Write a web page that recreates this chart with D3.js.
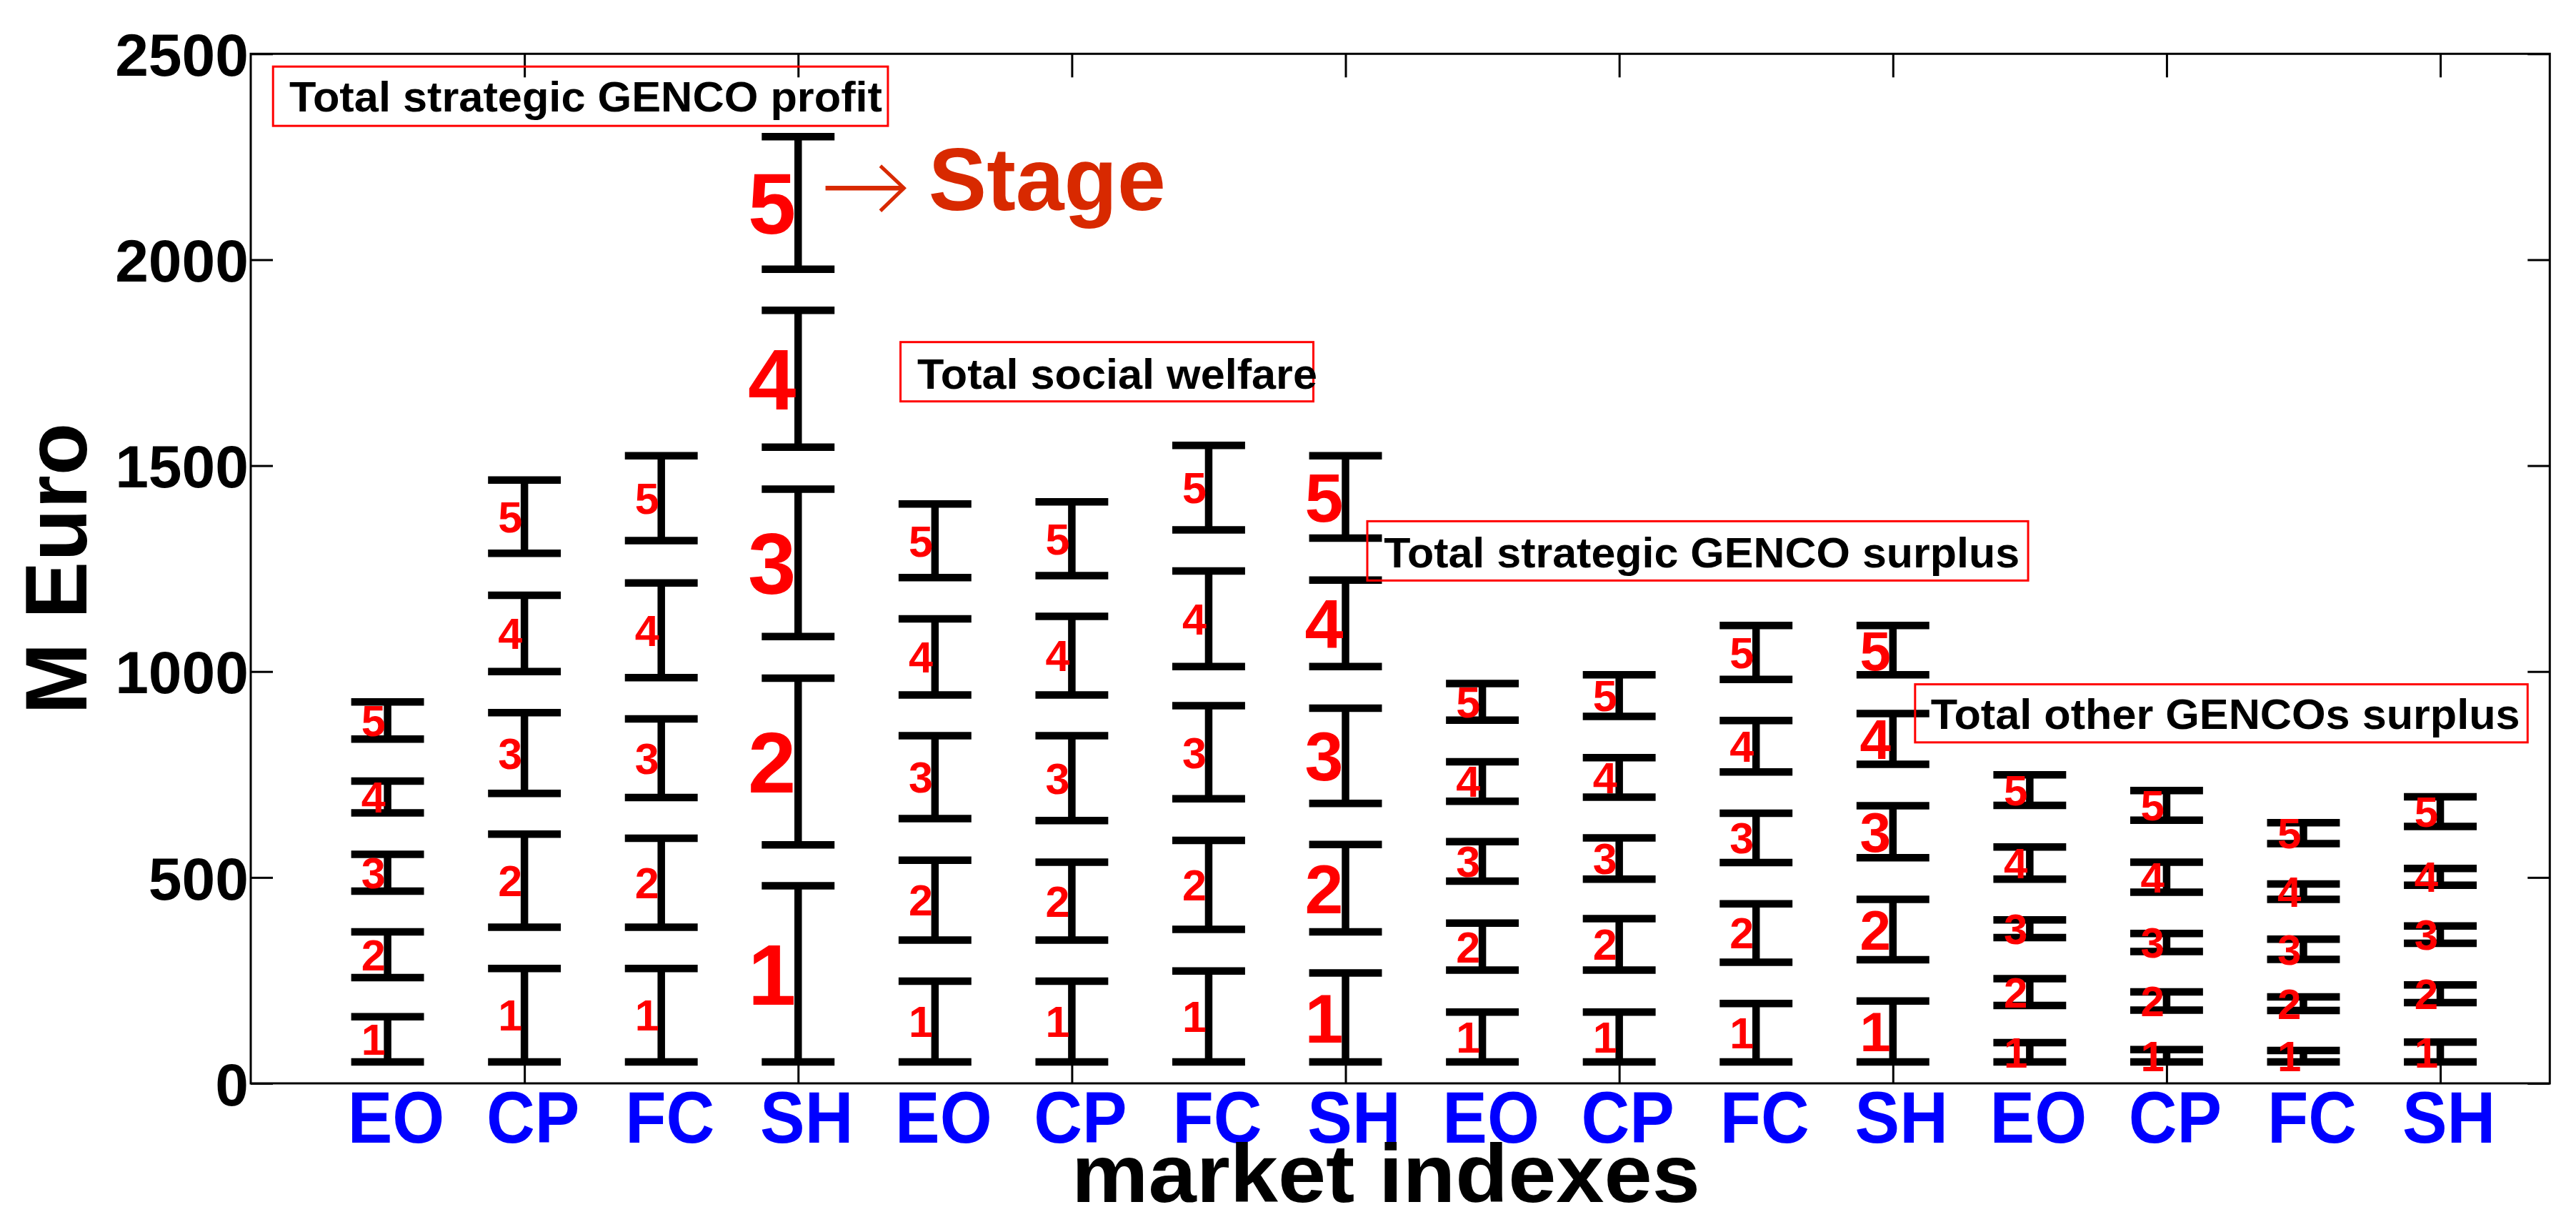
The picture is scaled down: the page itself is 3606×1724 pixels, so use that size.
<!DOCTYPE html>
<html lang="en">
<head>
  <meta charset="utf-8">
  <title>Market indexes by stage</title>
  <script src="https://d3js.org/d3.v7.min.js" charset="utf-8"></script>
  <style>
    body { margin: 0; background: white; }
    text { font-family: "Liberation Sans", Arial, sans-serif; font-weight: bold; }
  </style>
</head>

<body>
  <svg id="chart" width="3606" height="1724"></svg>
</body>

<script type="text/javascript">
  // market indexes, repeated once for every quantity
  var marketIndexes = ["EO", "CP", "FC", "SH"];
  var stages = [1, 2, 3, 4, 5];
  var quantities = ["Total strategic GENCO profit", "Total social welfare",
                    "Total strategic GENCO surplus", "Total other GENCOs surplus"];

  // [lower, upper] in M Euro for stages 1..5, rows EO, CP, FC, SH
  var strategicProfit = [
    [[52, 162], [257, 368], [467, 556], [657, 734], [836, 926]],
    [[52, 279], [379, 605], [704, 900], [1000, 1185], [1287, 1465]],
    [[52, 279], [379, 595], [694, 885], [985, 1215], [1318, 1524]],
    [[52, 480], [579, 984], [1085, 1443], [1545, 1877], [1977, 2299]]
  ];
  var socialWelfare = [
    [[52, 248], [348, 542], [643, 844], [943, 1128], [1228, 1407]],
    [[52, 248], [348, 537], [638, 844], [943, 1134], [1233, 1412]],
    [[52, 273], [374, 590], [691, 917], [1012, 1244], [1344, 1549]],
    [[52, 268], [368, 580], [680, 911], [1012, 1222], [1324, 1524]]
  ];
  var strategicSurplus = [
    [[52, 173], [275, 389], [491, 587], [685, 781], [882, 971]],
    [[52, 173], [275, 400], [496, 596], [695, 791], [891, 992]],
    [[52, 194], [294, 436], [536, 656], [756, 881], [981, 1112]],
    [[52, 200], [300, 447], [548, 674], [775, 898], [992, 1112]]
  ];
  var otherSurplus = [
    [[52, 99], [189, 254], [354, 397], [496, 574], [675, 749]],
    [[52, 82], [178, 222], [320, 364], [464, 537], [639, 711]],
    [[52, 80], [177, 210], [301, 350], [447, 484], [582, 633]],
    [[52, 100], [196, 239], [340, 382], [481, 522], [624, 696]]
  ];

  var yTicks = [0, 500, 1000, 1500, 2000, 2500];
  var xTicks = [2, 4, 6, 8, 10, 12, 14, 16];

  var groups = [strategicProfit, socialWelfare, strategicSurplus, otherSurplus];

  // layout only: stage label size (SH columns are drawn bigger), note boxes in data units
  var bigLabel = [121, 97, 78, 60];
  var notes = [
    { x0: 0.163, x1: 4.656, top: 2469, bottom: 2325, tx: 0.282, base: 2360, len: 830 },
    { x0: 4.748, x1: 7.765, top: 1800, bottom: 1656, tx: 4.870, base: 1687, len: 560 },
    { x0: 8.159, x1: 12.988, top: 1365, bottom: 1221, tx: 8.280, base: 1253, len: 890 },
    { x0: 12.162, x1: 16.638, top: 969, bottom: 828, tx: 12.276, base: 861, len: 825 }
  ];

  var svg = d3.select("#chart");

  var x = d3.scaleLinear().domain([0, 16.8]).range([351, 3569.3]),
      y = d3.scaleLinear().domain([0, 2500]).range([1516, 75.3]);

  // flat table of all error bars
  var bars = [];
  groups.forEach(function(group, g) {
    group.forEach(function(row, m) {
      row.forEach(function(v, s) {
        bars.push({ pos: g * 4 + m + 1, g: g, m: m, stage: stages[s], lo: v[0], hi: v[1] });
      });
    });
  });

  // axes, ticks pointing inwards on all four sides
  function styleAxis(sel) {
    sel.select(".domain").remove();
    sel.selectAll(".tick line").attr("stroke", "black").attr("stroke-width", 3);
  }

  svg.append("g")
    .attr("transform", "translate(0," + y(0) + ")")
    .call(d3.axisBottom(x).tickValues(xTicks).tickSize(-33).tickFormat(""))
    .call(styleAxis);

  svg.append("g")
    .attr("transform", "translate(0," + y(2500) + ")")
    .call(d3.axisTop(x).tickValues(xTicks).tickSize(-33).tickFormat(""))
    .call(styleAxis);

  svg.append("g")
    .attr("transform", "translate(" + x(16.8) + ",0)")
    .call(d3.axisRight(y).tickValues(yTicks).tickSize(-31).tickFormat(""))
    .call(styleAxis);

  var yAxis = svg.append("g")
    .attr("transform", "translate(" + x(0) + ",0)")
    .call(d3.axisLeft(y).tickValues(yTicks).tickSize(-31).tickPadding(3).tickFormat(d3.format("d")))
    .call(styleAxis);

  yAxis.selectAll(".tick text")
    .attr("font-family", "Liberation Sans, Arial, sans-serif")
    .attr("font-size", 84)
    .attr("fill", "black")
    .attr("dy", "0.36em");

  svg.append("rect")
    .attr("x", x(0))
    .attr("y", y(2500))
    .attr("width", x(16.8) - x(0))
    .attr("height", y(0) - y(2500))
    .attr("fill", "none")
    .attr("stroke", "black")
    .attr("stroke-width", 3);

  // error bars
  var capHalf = 0.266;
  var eb = svg.append("g").attr("stroke", "black").attr("stroke-width", 10.5);

  eb.selectAll(".stem")
    .data(bars)
    .enter().append("line")
    .attr("x1", function(d) { return x(d.pos); })
    .attr("x2", function(d) { return x(d.pos); })
    .attr("y1", function(d) { return y(d.lo); })
    .attr("y2", function(d) { return y(d.hi); });

  eb.selectAll(".capLo")
    .data(bars)
    .enter().append("line")
    .attr("x1", function(d) { return x(d.pos - capHalf); })
    .attr("x2", function(d) { return x(d.pos + capHalf); })
    .attr("y1", function(d) { return y(d.lo); })
    .attr("y2", function(d) { return y(d.lo); });

  eb.selectAll(".capHi")
    .data(bars)
    .enter().append("line")
    .attr("x1", function(d) { return x(d.pos - capHalf); })
    .attr("x2", function(d) { return x(d.pos + capHalf); })
    .attr("y1", function(d) { return y(d.hi); })
    .attr("y2", function(d) { return y(d.hi); });

  // red stage numbers, left of each bar
  function labelSize(d) {
    if (d.m === 3) return bigLabel[d.g];
    return d.g === 3 ? 60 : 61;
  }

  svg.selectAll(".stage")
    .data(bars)
    .enter().append("text")
    .attr("x", function(d) { return x(d.pos) - 3; })
    .attr("y", function(d) { return y((d.lo + d.hi) / 2) + 0.358 * labelSize(d); })
    .attr("text-anchor", "end")
    .attr("font-size", labelSize)
    .attr("fill", "#ff0000")
    .text(function(d) { return d.stage; });

  // blue market index names under the axis
  var cats = d3.range(16).map(function(i) { return { pos: i + 1, name: marketIndexes[i % 4] }; });

  svg.selectAll(".cat")
    .data(cats)
    .enter().append("text")
    .attr("transform", function(d) { return "translate(" + (x(d.pos) + 12) + ",1599) scale(0.92,1)"; })
    .attr("text-anchor", "middle")
    .attr("font-size", 102)
    .attr("fill", "#0000ff")
    .text(function(d) { return d.name; });

  // boxed quantity names
  notes.forEach(function(n, i) {
    svg.append("rect")
      .attr("x", x(n.x0))
      .attr("y", y(n.top))
      .attr("width", x(n.x1) - x(n.x0))
      .attr("height", y(n.bottom) - y(n.top))
      .attr("fill", "none")
      .attr("stroke", "#ff0000")
      .attr("stroke-width", 3);

    svg.append("text")
      .attr("x", x(n.tx))
      .attr("y", y(n.base))
      .attr("font-size", 59)
      .attr("textLength", n.len)
      .attr("lengthAdjust", "spacingAndGlyphs")
      .attr("fill", "black")
      .text(quantities[i]);
  });

  // "-> Stage" pointer next to the tallest bar
  var stageColor = "#d82900";
  var ax0 = x(4.2), ax1 = x(4.773), ay = y(2174);

  svg.append("line")
    .attr("x1", ax0).attr("x2", ax1)
    .attr("y1", ay).attr("y2", ay)
    .attr("stroke", stageColor)
    .attr("stroke-width", 6.5);

  svg.append("path")
    .attr("d", "M" + (ax1 - 33) + "," + (ay - 31) + "L" + ax1 + "," + ay + "L" + (ax1 - 33) + "," + (ay + 32))
    .attr("fill", "none")
    .attr("stroke", stageColor)
    .attr("stroke-width", 5);

  svg.append("text")
    .attr("x", x(4.953))
    .attr("y", y(2120))
    .attr("font-size", 124)
    .attr("textLength", 332)
    .attr("lengthAdjust", "spacingAndGlyphs")
    .attr("fill", stageColor)
    .text("Stage");

  // axis titles
  svg.append("text")
    .attr("transform", "translate(121," + y(1250) + ") rotate(-90)")
    .attr("text-anchor", "middle")
    .attr("font-size", 123)
    .attr("textLength", 408)
    .attr("lengthAdjust", "spacingAndGlyphs")
    .attr("fill", "black")
    .text("M Euro");

  svg.append("text")
    .attr("x", 1940)
    .attr("y", 1682)
    .attr("text-anchor", "middle")
    .attr("font-size", 115)
    .attr("textLength", 880)
    .attr("lengthAdjust", "spacingAndGlyphs")
    .attr("fill", "black")
    .text("market indexes");
</script>

</html>
